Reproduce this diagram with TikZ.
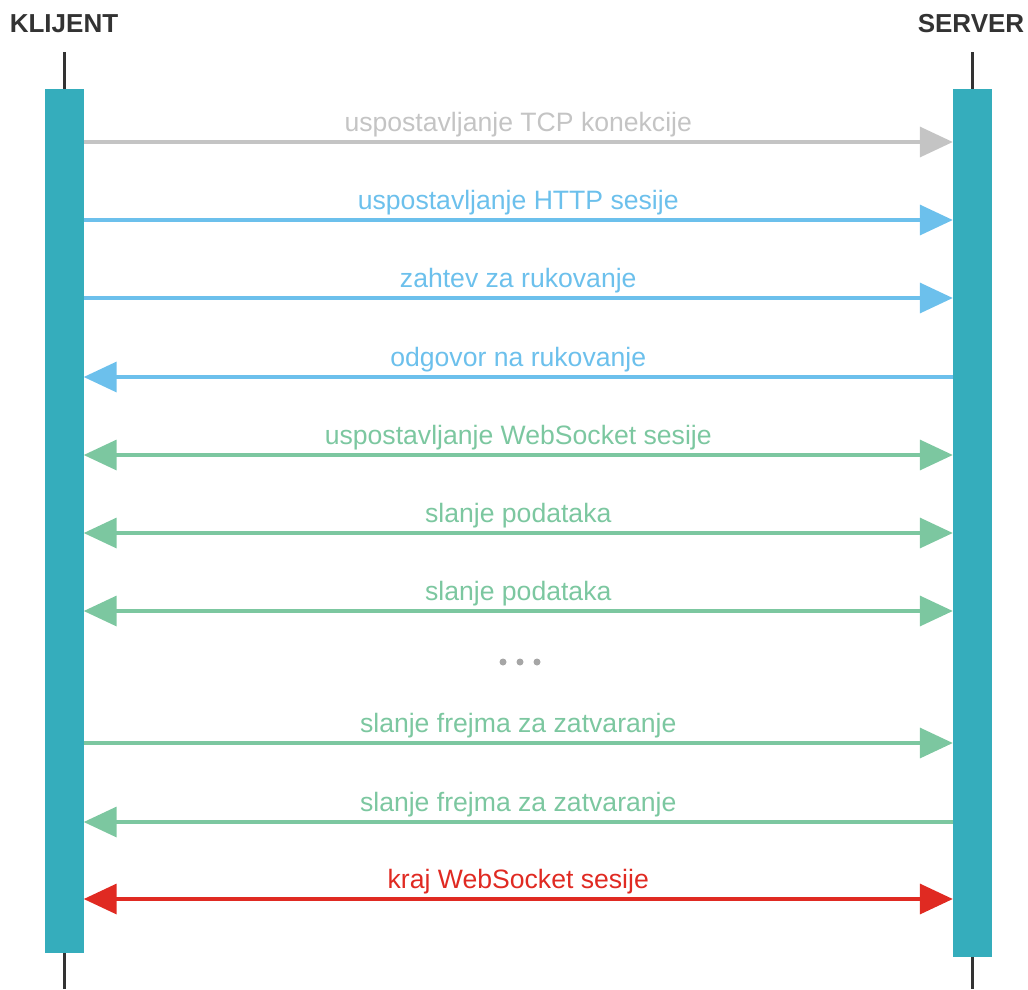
\documentclass[tikz,border=0pt]{standalone}
\usepackage{fontspec}
\setmainfont{Liberation Sans}
\usetikzlibrary{arrows.meta}
\definecolor{barteal}{HTML}{35ADBC}
\definecolor{tcpgray}{HTML}{C4C4C4}
\definecolor{httpblue}{HTML}{6CC0EC}
\definecolor{wsgreen}{HTML}{7CC7A0}
\definecolor{endred}{HTML}{E02A22}
\definecolor{headgray}{HTML}{333333}
\begin{document}
\begin{tikzpicture}[x=1pt,y=-1pt,
  >={Triangle[length=33pt,width=30pt]},
  lifebar/.style={fill=barteal, minimum width=39pt, inner sep=0pt},
  lifeline/.style={line width=3pt, color=headgray},
  head/.style={font=\fontsize{26}{30}\selectfont\bfseries, text=headgray},
  msg/.style={line width=3.5pt},
  lbl/.style={font=\fontsize{26.6}{30}\selectfont, anchor=base, yshift=11pt}]
\useasboundingbox (0,0) rectangle (1028,989);
% the two parties
\node[head] (klijent) at (64,24) {KLIJENT};
\node[head] (server) at (971,24) {SERVER};
\node[lifebar, minimum height=864pt] (kbar) at (64,521) {};
\node[lifebar, minimum height=868pt] (sbar) at (972.5,523) {};
\coordinate (ktop) at (64,52);
\coordinate (kend) at (64,989);
\coordinate (stop) at (972.5,52);
\coordinate (send) at (972.5,989);
\draw [lifeline] (ktop) -- (kbar.north);
\draw [lifeline] (kbar.south) -- (kend);
\draw [lifeline] (stop) -- (sbar.north);
\draw [lifeline] (sbar.south) -- (send);
% message rows
\coordinate (r1) at (0,142);
\coordinate (r2) at (0,220);
\coordinate (r3) at (0,298);
\coordinate (r4) at (0,377);
\coordinate (r5) at (0,455);
\coordinate (r6) at (0,533);
\coordinate (r7) at (0,611);
\coordinate (r8) at (0,743);
\coordinate (r9) at (0,822);
\coordinate (r10) at (0,899);
\draw [msg,tcpgray,->] (kbar.east |- r1) -- (sbar.west |- r1) node[midway,lbl] {uspostavljanje TCP konekcije};
\draw [msg,httpblue,->] (kbar.east |- r2) -- (sbar.west |- r2) node[midway,lbl] {uspostavljanje HTTP sesije};
\draw [msg,httpblue,->] (kbar.east |- r3) -- (sbar.west |- r3) node[midway,lbl] {zahtev za rukovanje};
\draw [msg,httpblue,<-] (kbar.east |- r4) -- (sbar.west |- r4) node[midway,lbl] {odgovor na rukovanje};
\draw [msg,wsgreen,<->] (kbar.east |- r5) -- (sbar.west |- r5) node[midway,lbl] {uspostavljanje WebSocket sesije};
\draw [msg,wsgreen,<->] (kbar.east |- r6) -- (sbar.west |- r6) node[midway,lbl] {slanje podataka};
\draw [msg,wsgreen,<->] (kbar.east |- r7) -- (sbar.west |- r7) node[midway,lbl] {slanje podataka};
\fill [gray!70] (503,662) circle (3.5pt) (520,662) circle (3.5pt) (537,662) circle (3.5pt);
\draw [msg,wsgreen,->] (kbar.east |- r8) -- (sbar.west |- r8) node[midway,lbl] {slanje frejma za zatvaranje};
\draw [msg,wsgreen,<-] (kbar.east |- r9) -- (sbar.west |- r9) node[midway,lbl] {slanje frejma za zatvaranje};
\draw [msg,endred,<->] (kbar.east |- r10) -- (sbar.west |- r10) node[midway,lbl] {kraj WebSocket sesije};
\end{tikzpicture}
\end{document}
